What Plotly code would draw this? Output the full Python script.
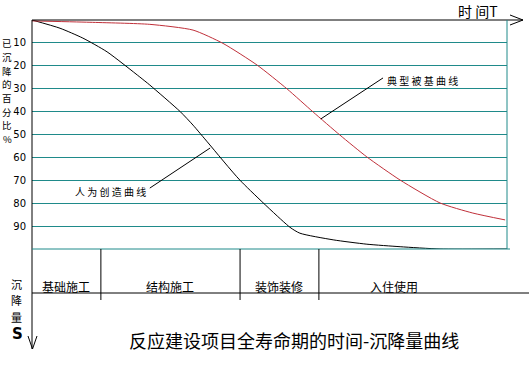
import plotly.graph_objects as go

# ---- data ----
pct_ticks = [10, 20, 30, 40, 50, 60, 70, 80, 90]
tick_labels = ["10", "20", "30", "40", "50", "60", "70", "80", "90"]

man_t = [0, 5.9, 10.7, 15.8, 22.7, 24.8, 31.2, 33.9, 37.1, 43.8, 54.3, 56.4, 63.4, 70.5, 77.5, 85.9, 100]
man_pct = [0, 3.6, 7.9, 13.9, 24.9, 28.4, 40.0, 45.9, 53.7, 70.0, 90.5, 93.1, 96.0, 97.9, 99.0, 100, 100]

typ_t = [0, 12.2, 24.8, 33.9, 40.2, 47.4, 53.7, 59.2, 64.8, 70.5, 77.5, 85.9, 92.8, 99.6]
typ_pct = [0.4, 1.0, 1.9, 4.4, 10.2, 19.7, 30.1, 40.2, 50.2, 59.8, 69.9, 79.9, 84.3, 87.3]

phase_names = ["基础施工", "结构施工", "装饰装修", "入住使用"]
phase_bounds = [0, 14.5, 43.8, 60.4, 92.0]

man_label = "人 为 创 造 曲 线"
typ_label = "典 型 被 基 曲 线"
title_text = "反应建设项目全寿命期的时间-沉降量曲线"
y_title_chars = ["已", "沉", "降", "的", "百", "分", "比", "%"]
s_title_chars = ["沉", "降", "量"]
x_title = "时 间T"

# ---- layout helpers (pixel -> paper) ----
L, R, T, B = 32, 507, 20, 249
def PX(x):
    return (x - L) / (R - L)
def PY(y):
    return (B - y) / (B - T)

TEAL = "#1f8a8a"
RED = "#c0303a"
CJK = "Noto Sans CJK SC"

fig = go.Figure()
fig.add_trace(go.Scatter(x=man_t, y=man_pct, mode="lines", line=dict(color="black", width=1, shape="spline", smoothing=0.6),
                         hoverinfo="skip", showlegend=False))
fig.add_trace(go.Scatter(x=typ_t, y=typ_pct, mode="lines", line=dict(color=RED, width=1, shape="spline", smoothing=0.6),
                         hoverinfo="skip", showlegend=False))

shapes = []
def pline(x0, y0, x1, y1, color="black", w=1):
    shapes.append(dict(type="line", xref="paper", yref="paper", x0=PX(x0), y0=PY(y0), x1=PX(x1), y1=PY(y1),
                       line=dict(color=color, width=w), layer="above"))

# frame
pline(32, 20, 523, 20)            # top time axis
pline(510, 15, 523, 20)
pline(510, 25, 523, 20)
pline(32, 20, 32, 349)            # left settlement axis
pline(28, 336, 32.5, 349)
pline(37, 336, 32.5, 349)
pline(507, 20, 507, 249, TEAL)
pline(32, 249, 510, 249, TEAL)
pline(32, 293, 529, 293)          # phase table line
for b in phase_bounds[1:4]:
    shapes.append(dict(type="line", xref="x", yref="paper", x0=b, x1=b, y0=PY(249), y1=PY(300),
                       line=dict(color="black", width=1)))

# leader lines (data coords)
shapes.append(dict(type="line", xref="x", yref="y", x0=60.8, y0=43.2, x1=73.9, y1=25.3, line=dict(color="black", width=1)))
shapes.append(dict(type="line", xref="x", yref="y", x0=37.5, y0=55.9, x1=24.8, y1=73.4, line=dict(color="black", width=1)))

annotations = []
for i, name in enumerate(phase_names):
    cx = (phase_bounds[i] + phase_bounds[i + 1]) / 2
    annotations.append(dict(x=cx, xref="x", y=PY(286), yref="paper", text=name, showarrow=False,
                            font=dict(family=CJK, size=12, color="black"), xanchor="center", yanchor="middle"))

annotations.append(dict(x=74.3, xref="x", y=26.3, yref="y", text=typ_label, showarrow=False,
                        font=dict(family=CJK, size=10, color="black"), xanchor="left", yanchor="middle"))
annotations.append(dict(x=24.5, xref="x", y=74.7, yref="y", text=man_label, showarrow=False,
                        font=dict(family=CJK, size=10, color="black"), xanchor="right", yanchor="middle"))
annotations.append(dict(x=PX(294), xref="paper", y=PY(340), yref="paper", text=title_text, showarrow=False,
                        font=dict(family=CJK, size=18, color="black"), xanchor="center", yanchor="middle"))
annotations.append(dict(x=PX(478), xref="paper", y=PY(11), yref="paper", text=x_title, showarrow=False,
                        font=dict(family=CJK, size=14, color="black"), xanchor="center", yanchor="middle"))
for i, ch in enumerate(y_title_chars):
    annotations.append(dict(x=PX(7), xref="paper", y=PY(43.5 + 13.6 * i), yref="paper", text=ch, showarrow=False,
                            font=dict(family=CJK, size=9.5, color="black"), xanchor="center", yanchor="middle"))
for i, ch in enumerate(s_title_chars):
    annotations.append(dict(x=PX(16), xref="paper", y=PY(283.5 + 16.5 * i), yref="paper", text=ch, showarrow=False,
                            font=dict(family=CJK, size=11, color="black"), xanchor="center", yanchor="middle"))
annotations.append(dict(x=PX(17), xref="paper", y=PY(334), yref="paper", text="<b>S</b>", showarrow=False,
                        font=dict(family="DejaVu Sans", size=15, color="black"), xanchor="center", yanchor="middle"))

fig.update_layout(
    width=532, height=384, autosize=False,
    margin=dict(l=L, r=532 - R, t=T, b=384 - B, pad=0),
    paper_bgcolor="white", plot_bgcolor="white",
    shapes=shapes, annotations=annotations,
    xaxis=dict(range=[0, 100], showgrid=False, zeroline=False, showticklabels=False, ticks="", showline=False, fixedrange=True),
    yaxis=dict(range=[100, 0], tickvals=pct_ticks, ticktext=tick_labels, showgrid=True, gridcolor=TEAL, gridwidth=1,
               zeroline=False, showline=False, ticks="outside", ticklen=3, tickcolor="white",
               tickfont=dict(family="DejaVu Sans", size=10, color="black"), fixedrange=True),
)
fig.write_html("out.html", config={"displayModeBar": False}, post_script="document.body.style.margin='0';")
